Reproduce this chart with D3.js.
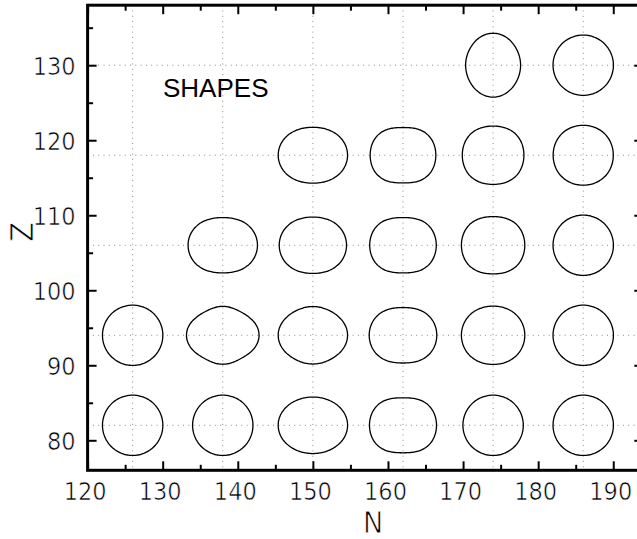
<!DOCTYPE html>
<html>
<head>
<meta charset="utf-8">
<script src="https://cdn.jsdelivr.net/npm/d3@7"></script>
<style>
  html, body { margin: 0; padding: 0; background: #fff; }
  svg { display: block; }
  .tick-label { font-family: 'Liberation Sans Narrow', 'Arial Narrow', 'DejaVu Sans Condensed', sans-serif; font-size: 25px; fill: #000; stroke: #fff; stroke-width: 0.6px; }
  .axis-title { font-family: 'Liberation Sans Narrow', 'Arial Narrow', 'DejaVu Sans Condensed', sans-serif; font-size: 32px; fill: #000; stroke: #fff; stroke-width: 0.8px; }
</style>
</head>
<body>
<div id="chart"></div>
<script>
// axis ticks
const nTicks = [120, 130, 140, 150, 160, 170, 180, 190];
const nMinor = [125, 135, 145, 155, 165, 175, 185];
const zTicks = [80, 90, 100, 110, 120, 130];
const zMinor = [85, 95, 105, 115, 125, 135];

// dotted grid through the nuclei
const gridN = [126, 138, 150, 162, 174, 186];
const gridZ = [82, 94, 106, 118, 130];

// nuclei and their deformations (axis of symmetry along N)
const shapeN = [126, 138, 150, 162, 174, 186,
                126, 138, 150, 162, 174, 186,
                138, 150, 162, 174, 186,
                150, 162, 174, 186,
                174, 186];
const shapeZ = [82, 82, 82, 82, 82, 82,
                94, 94, 94, 94, 94, 94,
                106, 106, 106, 106, 106,
                118, 118, 118, 118,
                130, 130];
const beta2 = [0, 0, 0.215, 0.235, 0, 0,
               0, 0.209, 0.185, 0.225, 0.094, 0,
               0.251, 0.195, 0.220, 0.124, 0,
               0.233, 0.206, 0.074, 0.010,
               -0.169, 0];
const beta4 = [0, 0, 0.016, -0.045, 0, 0,
               0, 0.083, 0.038, -0.027, -0.011, 0,
               -0.011, -0.010, -0.043, -0.034, 0,
               0.002, -0.050, -0.031, -0.012,
               0.020, 0];

const width = 637;
const height = 539;
const R0 = 4.02;

const svg = d3.select('#chart').append('svg')
  .attr('width', width)
  .attr('height', height);

const x = d3.scaleLinear().domain([120, 194]).range([87.6, 643.3]);
const y = d3.scaleLinear().domain([76, 138]).range([470.3, 5.2]);

// grid
const grid = svg.append('g')
  .attr('stroke', '#8a8a8a')
  .attr('stroke-width', 1)
  .attr('stroke-dasharray', '1 4.3');
grid.selectAll('line.gn').data(gridN).join('line')
  .attr('class', 'gn')
  .attr('x1', (d) => x(d)).attr('x2', (d) => x(d))
  .attr('y1', y(138)).attr('y2', y(76));
grid.selectAll('line.gz').data(gridZ).join('line')
  .attr('class', 'gz')
  .attr('y1', (d) => y(d)).attr('y2', (d) => y(d))
  .attr('x1', x(120)).attr('x2', x(194));

// shapes
const Y20 = (c) => Math.sqrt(5 / (4 * Math.PI)) * (3 * c * c - 1) / 2;
const Y40 = (c) => Math.sqrt(9 / (4 * Math.PI)) * (35 * c ** 4 - 30 * c * c + 3) / 8;
const angles = d3.range(0, 360, 2).map((a) => a * Math.PI / 180);

const nuclei = shapeN.map((n, i) => ({ n, z: shapeZ[i], b2: beta2[i], b4: beta4[i] }));
const outline = d3.line()
  .x((p) => x(p[0]))
  .y((p) => y(p[1]))
  .curve(d3.curveCardinalClosed);

svg.append('g').selectAll('path').data(nuclei).join('path')
  .attr('fill', 'none')
  .attr('stroke', '#000')
  .attr('stroke-width', 1.3)
  .attr('d', (d) => outline(angles.map((t) => {
    const c = Math.cos(t);
    const r = R0 * (1 + d.b2 * Y20(c) + d.b4 * Y40(c));
    return [d.n + r * Math.cos(t), d.z + r * Math.sin(t)];
  })));

// axes
function styleTicks(g, w) {
  g.select('.domain').remove();
  g.selectAll('.tick line').attr('stroke', '#000').attr('stroke-width', w);
}

svg.append('g').attr('transform', `translate(0,${y(76)})`)
  .call(d3.axisBottom(x).tickValues(nTicks).tickSize(-9).tickSizeOuter(0))
  .call((g) => styleTicks(g, 2))
  .call((g) => g.selectAll('text').attr('class', 'tick-label').attr('font-size', null).attr('font-family', null)
    .attr('y', 30).attr('dy', null).attr('dx', -3));
svg.append('g').attr('transform', `translate(0,${y(76)})`)
  .call(d3.axisBottom(x).tickValues(nMinor).tickSize(-5.5).tickFormat(''))
  .call((g) => styleTicks(g, 2));

svg.append('g').attr('transform', `translate(0,${y(138)})`)
  .call(d3.axisTop(x).tickValues(nTicks).tickSize(-9).tickFormat(''))
  .call((g) => styleTicks(g, 2));
svg.append('g').attr('transform', `translate(0,${y(138)})`)
  .call(d3.axisTop(x).tickValues(nMinor).tickSize(-5.5).tickFormat(''))
  .call((g) => styleTicks(g, 2));

svg.append('g').attr('transform', `translate(${x(120)},0)`)
  .call(d3.axisLeft(y).tickValues(zTicks).tickSize(-9).tickSizeOuter(0))
  .call((g) => styleTicks(g, 2))
  .call((g) => g.selectAll('text').attr('class', 'tick-label').attr('font-size', null).attr('font-family', null)
    .attr('x', -12).attr('dy', '0.36em'));
svg.append('g').attr('transform', `translate(${x(120)},0)`)
  .call(d3.axisLeft(y).tickValues(zMinor).tickSize(-5.5).tickFormat(''))
  .call((g) => styleTicks(g, 2));

svg.append('g').attr('transform', `translate(${x(194)},0)`)
  .call(d3.axisRight(y).tickValues(zTicks).tickSize(-9).tickFormat(''))
  .call((g) => styleTicks(g, 2));
svg.append('g').attr('transform', `translate(${x(194)},0)`)
  .call(d3.axisRight(y).tickValues(zMinor).tickSize(-5.5).tickFormat(''))
  .call((g) => styleTicks(g, 2));

// frame
svg.append('rect')
  .attr('x', x(120)).attr('y', y(138))
  .attr('width', x(194) - x(120)).attr('height', y(76) - y(138))
  .attr('fill', 'none').attr('stroke', '#000').attr('stroke-width', 3);

// titles
svg.append('text').attr('class', 'axis-title')
  .attr('x', 373).attr('y', 532.5).attr('text-anchor', 'middle')
  .style('font-size', '30px').text('N');
svg.append('text').attr('class', 'axis-title')
  .attr('transform', 'translate(33,232) rotate(-90)').attr('text-anchor', 'middle').text('Z');

svg.append('text')
  .attr('x', 163).attr('y', 97)
  .attr('font-family', "'Liberation Sans', Arial, sans-serif")
  .attr('font-size', 26)
  .text('SHAPES');
</script>
</body>
</html>
